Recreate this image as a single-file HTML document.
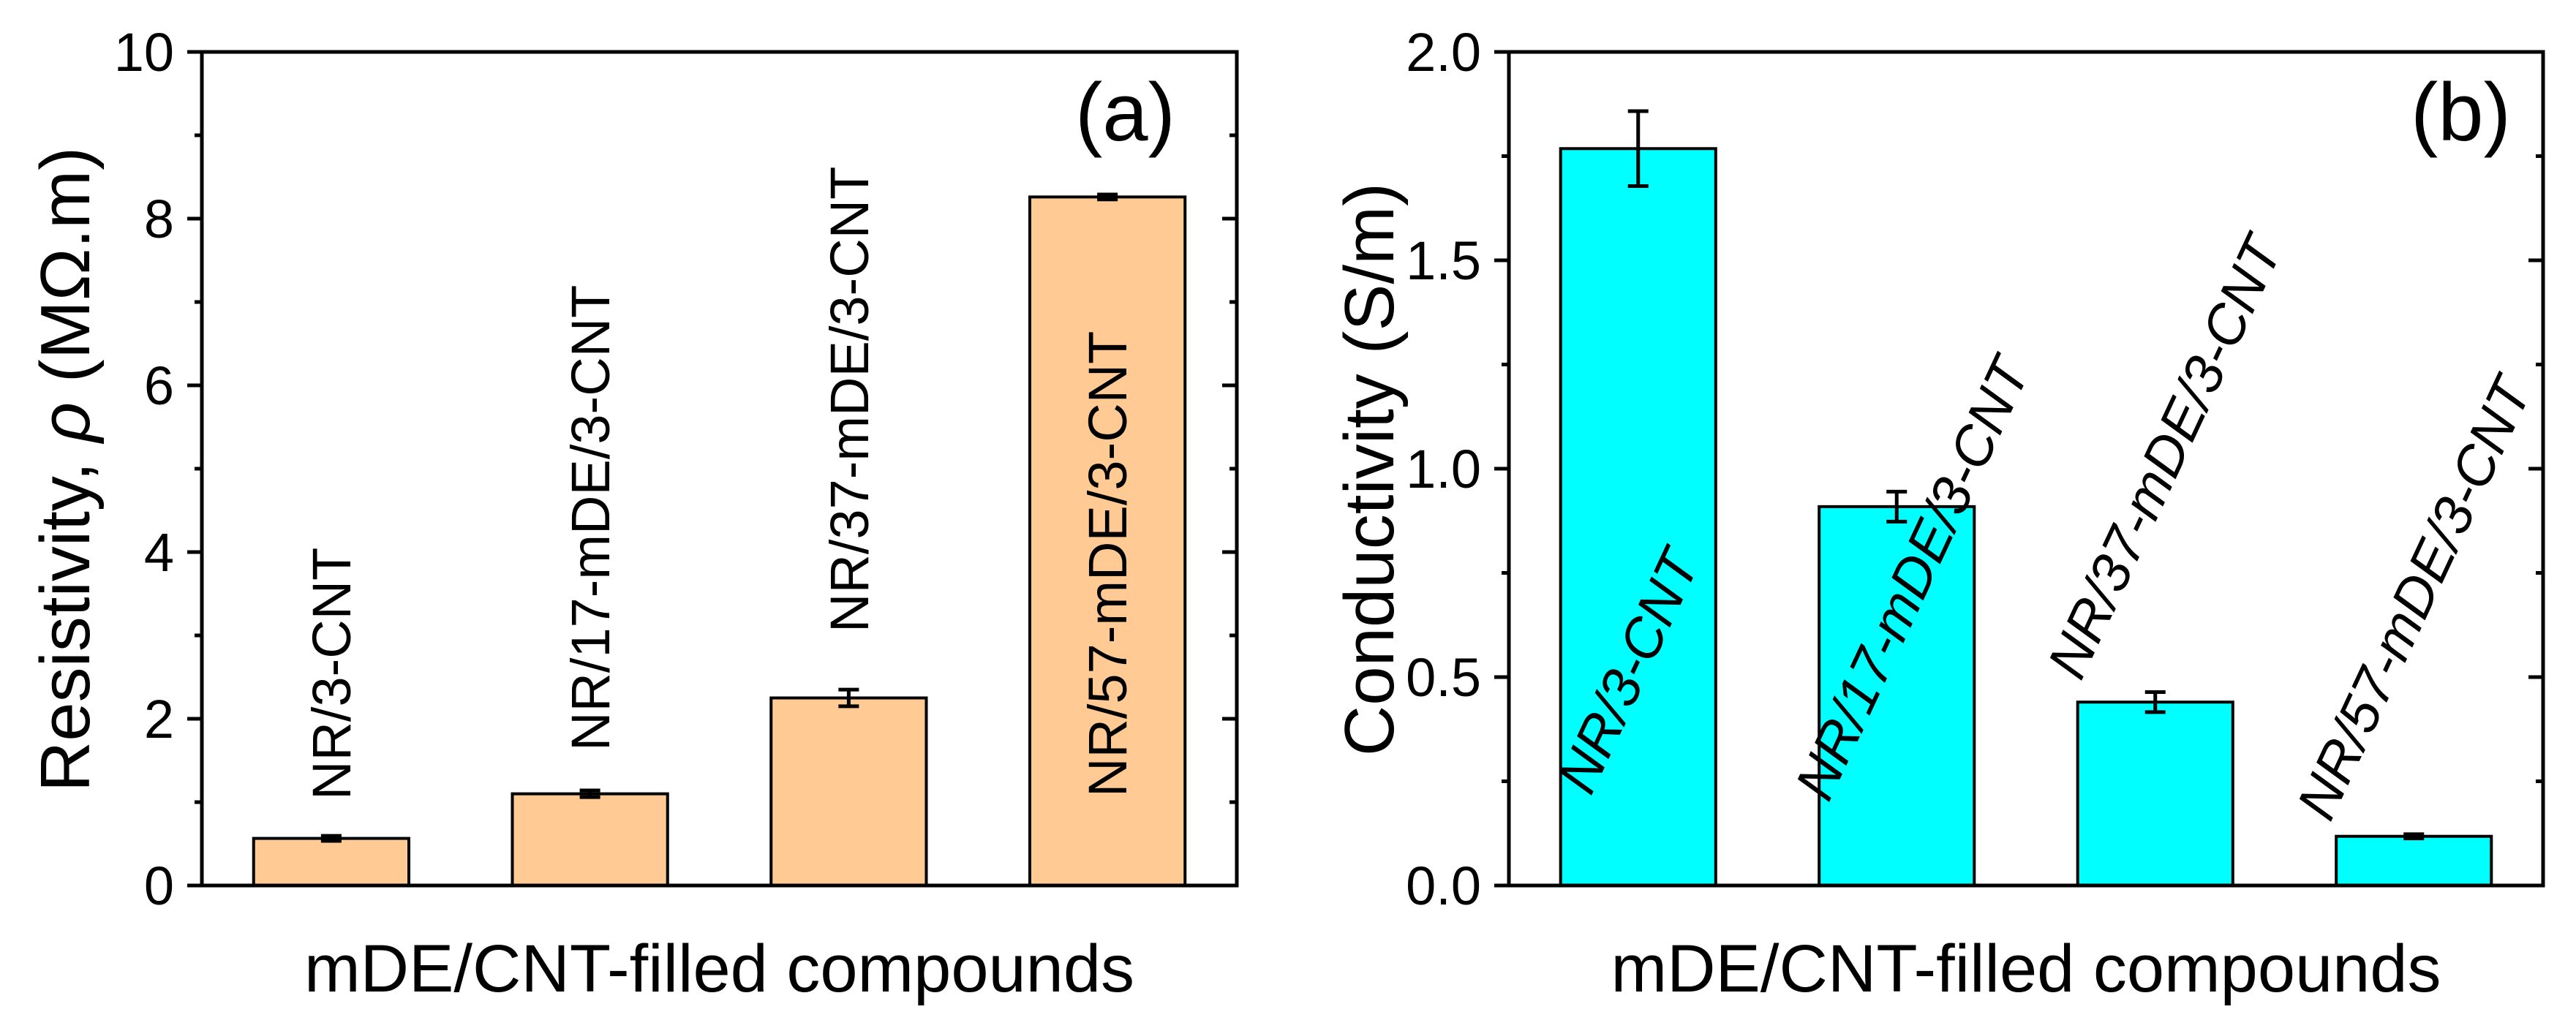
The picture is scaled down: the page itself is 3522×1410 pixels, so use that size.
<!DOCTYPE html>
<html><head><meta charset="utf-8"><style>
html,body{margin:0;padding:0;background:#fff;}
svg{display:block;font-family:"Liberation Sans",sans-serif;}
</style></head><body>
<svg id="chart" width="3522" height="1410" viewBox="0 0 3522 1410" xmlns="http://www.w3.org/2000/svg"></svg>
<script>
const categories = ["NR/3-CNT","NR/17-mDE/3-CNT","NR/37-mDE/3-CNT","NR/57-mDE/3-CNT"];
const resistivity = [0.565, 1.10, 2.25, 8.26];
const resistivityErr = [0.03, 0.04, 0.1, 0.03];
const conductivity = [1.768, 0.909, 0.44, 0.118];
const conductivityErr = [0.09, 0.036, 0.024, 0.005];
const ticksA = ["0","2","4","6","8","10"];
const ticksB = ["0.0","0.5","1.0","1.5","2.0"];

const NS = "http://www.w3.org/2000/svg";
const svg = document.getElementById('chart');
function mk(tag, attrs, parent){const e=document.createElementNS(NS,tag);for(const k in attrs)e.setAttribute(k,attrs[k]);(parent||svg).appendChild(e);return e;}

function panel(cfg){
  const g = mk('g',{});
  
  
  const L=cfg.left,R=cfg.right,T=71,B=1211,W=R-L;
  const y = v => B - (v - 0) / cfg.max * (B - T);
  const xc = i => L + (i + 0.5) / categories.length * W;
  const bw = 0.6 * W / categories.length;
  // bars
  cfg.values.forEach((v,i)=>{
    const r = mk('rect',{x:xc(i)-bw/2,y:y(v),width:bw,height:B-y(v),fill:cfg.fill,stroke:'#000','stroke-width':4},g);
    
    
    const e = cfg.errs[i];
    const eb = mk('path',{d:`M${xc(i)},${y(v+e)}V${y(v-e)}M${xc(i)-14},${y(v+e)}h28M${xc(i)-14},${y(v-e)}h28`,stroke:'#000','stroke-width':5,fill:'none'},g);
    
    
  });
  // ticks
  const nMaj = cfg.ticks.length;
  for(let k=0;k<nMaj;k++){
    const v = k*cfg.step, yy=y(v);
    mk('line',{x1:L-20,x2:L,y1:yy,y2:yy,stroke:'#000','stroke-width':5},g);
    mk('line',{x1:R-20,x2:R,y1:yy,y2:yy,stroke:'#000','stroke-width':5},g);
    const t = mk('text',{x:L-38,y:yy+26,'text-anchor':'end','font-size':74},g);
    t.textContent = cfg.ticks[k];
    
    
    if(k<nMaj-1){
      const ym=y(v+cfg.step/2);
      mk('line',{x1:L-10,x2:L,y1:ym,y2:ym,stroke:'#000','stroke-width':5},g);
      mk('line',{x1:R-10,x2:R,y1:ym,y2:ym,stroke:'#000','stroke-width':5},g);
    }
  }
  const fr = mk('rect',{x:L,y:T,width:W,height:B-T,fill:'none',stroke:'#000','stroke-width':5},g);
  
  
  // bar labels
  categories.forEach((c,i)=>{
    const p = cfg.labelPos[i];
    const t = mk('text',{x:p[0],y:p[1],'font-size':cfg.labelSize,transform:`rotate(${cfg.angle} ${p[0]} ${p[1]})`,'font-style':cfg.italic?'italic':'normal'},g);
    t.textContent = c;
    
    
  });
  const xt = mk('text',{x:(L+R)/2,y:1356,'text-anchor':'middle','font-size':92},g);
  xt.textContent = 'mDE/CNT-filled compounds';
  
  
  const pl = mk('text',{x:cfg.tagX,y:192,'font-size':112},g);
  pl.textContent = cfg.tag;
  
  
  return g;
}

panel({name:'panel-a',left:276,right:1691,max:10,step:2,ticks:ticksA,values:resistivity,errs:resistivityErr,fill:'#FFCA94',
  labelPos:[[453+26,1094],[807+26,1027],[1161+26,865],[1514+26,1090]],angle:-90,labelSize:74,italic:false,tag:'(a)',tagX:1470});
panel({name:'panel-b',left:2063,right:3477,max:2,step:0.5,ticks:ticksB,values:conductivity,errs:conductivityErr,fill:'#00FFFF',
  labelPos:[[2175,1090],[2500,1099],[2845,933],[3186,1126]],angle:-65,labelSize:76,italic:true,tag:'(b)',tagX:3296});

// y-axis titles
const ya = mk('text',{x:122,y:642,'text-anchor':'middle','font-size':96,transform:'rotate(-90 122 642)'});
ya.innerHTML = 'Resistivity, <tspan font-style="italic">ρ</tspan> (MΩ.m)';


const yb = mk('text',{x:1905,y:642,'text-anchor':'middle','font-size':96,transform:'rotate(-90 1905 642)'});
yb.textContent = 'Conductivity (S/m)';


</script>
</body></html>
